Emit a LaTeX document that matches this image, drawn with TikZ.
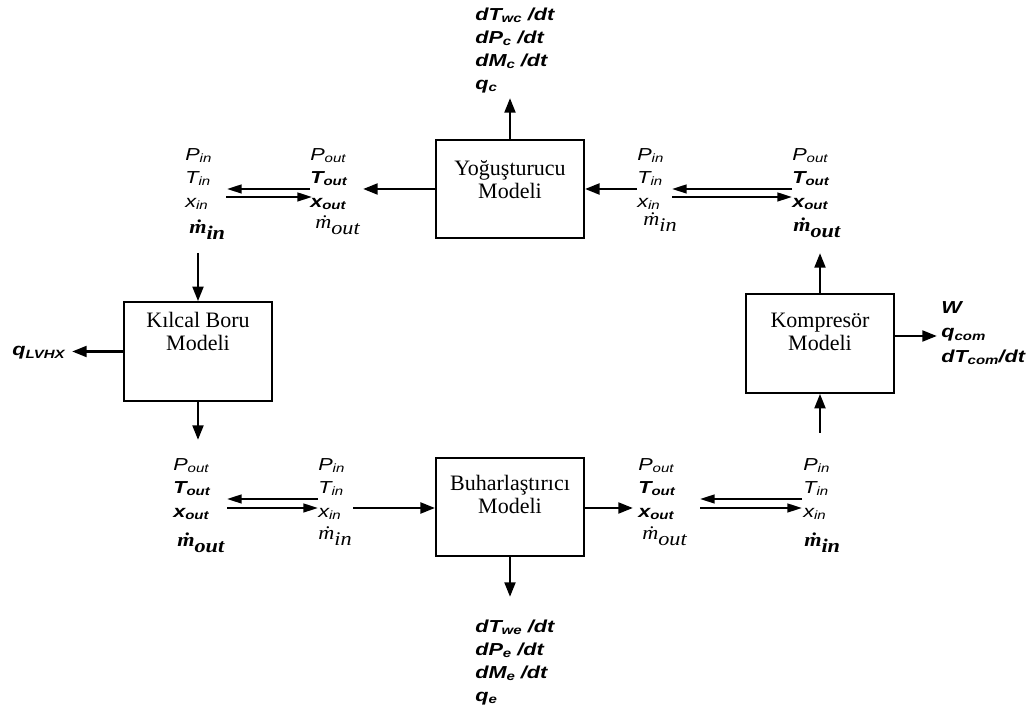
\documentclass[tikz,border=0pt]{standalone}
\usepackage{fontspec}
\setmainfont{Liberation Serif}
\setsansfont{Liberation Sans}[FakeStretch=1.25]
\newfontfamily\mfont{Liberation Serif}[FakeStretch=1.15]
\usetikzlibrary{arrows.meta,positioning}
\tikzset{%
  block/.style   = {draw, line width=1.3pt, rectangle, minimum width=111pt,
    minimum height=74pt},
  boxtext/.style = {align=center, inner sep=0pt,
    font=\fontsize{16.5}{17}\selectfont}, % model name
  vars/.style    = {align=left, inner sep=0pt, anchor=north west,
    font=\sffamily\itshape\fontsize{13}{17.6}\selectfont}, % P, T, x
  rates/.style   = {vars, font=\sffamily\bfseries\itshape\fontsize{13}{17.3}\selectfont}, % model outputs
  mflow/.style   = {inner sep=0pt, anchor=base west}, % mass flow
  flow/.style    = {line width=2.2pt, -{Triangle[length=11pt,width=8pt]}},
  pass/.style    = {line width=1.8pt, -{Triangle[length=11pt,width=6.5pt]}}
}
\newcommand{\sbs}[1]{\raisebox{-0.25ex}{\fontsize{9}{10}\selectfont #1}}
\newcommand{\mdot}[1]{{\mfont\itshape\fontsize{14.5}{15}\selectfont\.{m}\raisebox{-0.6ex}{#1}}}

\begin{document}
\begin{tikzpicture}[x=0.75pt, y=-0.75pt]
\useasboundingbox (0,0) rectangle (1033,712);
\draw
	% Drawing the four models :
	node at (510,189) [block] (yog) {}
	node at (198,351.5) [block] (kil) {}
	node at (820,343.5) [block] (komp) {}
	node at (510,507) [block] (buh) {};
\node[boxtext, below=16pt of yog.north] (yogT) {Yoğuşturucu\\Modeli};
\node[boxtext, below=8pt of kil.north] (kilT) {Kılcal Boru\\Modeli};
\node[boxtext, below=15pt of komp.north] (kompT) {Kompresör\\Modeli};
\node[boxtext, below=14pt of buh.north] (buhT) {Buharlaştırıcı\\Modeli};
	% Variables of the upper row
\draw
	node at (185,148) [vars] (kilIn) {P\sbs{in}\\T\sbs{in}\\x\sbs{in}}
	node at (189,234) [mflow] (kilInM) {\bfseries\mdot{in}}
	node at (310,148) [vars] (yogOut) {P\sbs{out}\\\textbf{T\sbs{out}}\\\textbf{x\sbs{out}}}
	node at (315,229) [mflow] (yogOutM) {\mdot{out}}
	node at (637,148) [vars] (yogIn) {P\sbs{in}\\T\sbs{in}\\x\sbs{in}}
	node at (643,226) [mflow] (yogInM) {\mdot{in}}
	node at (792,148) [vars] (kompOut) {P\sbs{out}\\\textbf{T\sbs{out}}\\\textbf{x\sbs{out}}}
	node at (793,232) [mflow] (kompOutM) {\bfseries\mdot{out}};
	% Variables of the lower row
\draw
	node at (173,458) [vars] (kilOut) {P\sbs{out}\\\textbf{T\sbs{out}}\\\textbf{x\sbs{out}}}
	node at (177,547) [mflow] (kilOutM) {\bfseries\mdot{out}}
	node at (318,458) [vars] (buhIn) {P\sbs{in}\\T\sbs{in}\\x\sbs{in}}
	node at (318,540) [mflow] (buhInM) {\mdot{in}}
	node at (638,458) [vars] (buhOut) {P\sbs{out}\\\textbf{T\sbs{out}}\\\textbf{x\sbs{out}}}
	node at (642,540) [mflow] (buhOutM) {\mdot{out}}
	node at (803,458) [vars] (kompIn) {P\sbs{in}\\T\sbs{in}\\x\sbs{in}}
	node at (804,547) [mflow] (kompInM) {\bfseries\mdot{in}};
	% Outputs of the models
\draw
	node at (475,7.6) [rates] (yogR) {dT\sbs{wc} /dt\\dP\sbs{c} /dt\\dM\sbs{c} /dt\\q\sbs{c}}
	node at (475,619.6) [rates] (buhR) {dT\sbs{we} /dt\\dP\sbs{e} /dt\\dM\sbs{e} /dt\\q\sbs{e}}
	node at (941,301) [rates, font=\sffamily\bfseries\itshape\fontsize{13}{18.4}\selectfont] (kompR) {W\\q\sbs{com}\\dT\sbs{com}/dt}
	node at (12,356) [rates, anchor=base west] (kilR) {q\sbs{LVHX}};
	% Ports
\coordinate (yogW) at (363,189);
\coordinate (yogE) at (637,189);
\coordinate (yogN) at (510,98);
\coordinate (kompN) at (820,253);
\coordinate (kompS) at (820,433);
\coordinate (kompE) at (937,336);
\coordinate (kilN) at (198,253);
\coordinate (kilS) at (198,440);
\coordinate (kilW) at (72,351.5);
\coordinate (buhS) at (510,597);
\coordinate (buhW) at (353,508);
\coordinate (buhE) at (633,508);
	% Joining the models
\draw[flow] (yog) -- (yogW);
\draw[flow] (yogE) -- (yog);
\draw[flow] (yog) -- (yogN);
\draw[flow] (komp) -- (kompN);
\draw[flow] (kompS) -- (komp);
\draw[flow] (komp.east |- kompE) -- (kompE);
\draw[flow] (kilN) -- (kil);
\draw[flow] (kil) -- (kilS);
\draw[flow] (kil) -- (kilW);
\draw[flow] (buh) -- (buhS);
\draw[flow] (buhW) -- (buh.west |- buhW);
\draw[flow] (buh.east |- buhE) -- (buhE);
	% Passing variables between models
\coordinate (ulA) at (310,189); \coordinate (ulB) at (227,189);
\coordinate (ulC) at (226,197); \coordinate (ulD) at (312,197);
\coordinate (urA) at (792,189); \coordinate (urB) at (672,189);
\coordinate (urC) at (672,197); \coordinate (urD) at (792,197);
\coordinate (llA) at (318,499); \coordinate (llB) at (227,499);
\coordinate (llC) at (227,508); \coordinate (llD) at (318,508);
\coordinate (lrA) at (802,499); \coordinate (lrB) at (700,499);
\coordinate (lrC) at (700,508); \coordinate (lrD) at (802,508);
\draw[pass] (ulA) -- (ulB);
\draw[pass] (ulC) -- (ulD);
\draw[pass] (urA) -- (urB);
\draw[pass] (urC) -- (urD);
\draw[pass] (llA) -- (llB);
\draw[pass] (llC) -- (llD);
\draw[pass] (lrA) -- (lrB);
\draw[pass] (lrC) -- (lrD);
\end{tikzpicture}
\end{document}
